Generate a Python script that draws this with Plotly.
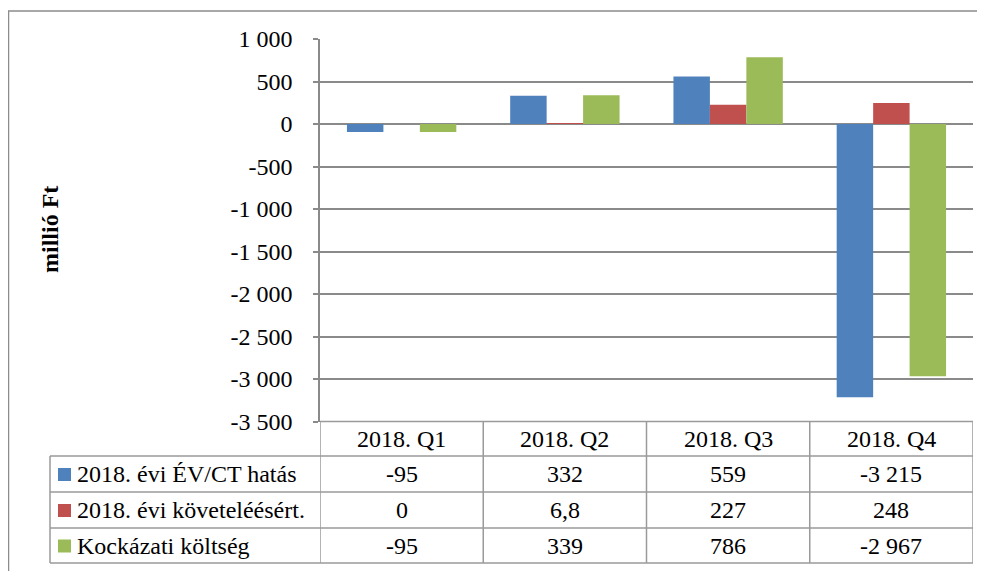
import plotly.graph_objects as go

# page body has an 8px margin; the figure is sized so that it ends at the window edge
OFF = 8
W, H = 985 - OFF, 571 - OFF

categories = ["2018. Q1", "2018. Q2", "2018. Q3", "2018. Q4"]
series_names = ["2018. évi ÉV/CT hatás", "2018. évi követeléésért.", "Kockázati költség"]
ev_ct_hatas = [-95, 332, 559, -3215]
koveteles_ert = [0, 6.8, 227, 248]
kockazati_koltseg = [-95, 339, 786, -2967]
series_values = [ev_ct_hatas, koveteles_ert, kockazati_koltseg]
series_colors = ["#4F81BD", "#C0504D", "#9BBB59"]

y_tickvals = [1000, 500, 0, -500, -1000, -1500, -2000, -2500, -3000, -3500]
y_ticktext = ["1 000", "500", "0", "-500", "-1 000", "-1 500", "-2 000", "-2 500", "-3 000", "-3 500"]
y_title = "millió Ft"

FONT = "Liberation Serif, Times New Roman, serif"
FS = 24
GRID = "#8a8a8a"
TBL = "#9a9a9a"


def fmt(v):
    if float(v).is_integer():
        return f"{int(v):,}".replace(",", " ")
    return str(v).replace(".", ",")


def px_x(p):
    return (p - OFF) / W


def px_y(p):
    return 1 - (p - OFF) / H


fig = go.Figure()
for name, vals, col in zip(series_names, series_values, series_colors):
    fig.add_trace(go.Bar(x=categories, y=vals, name=name, marker_color=col,
                         marker_line_width=0, showlegend=False))

# plot area pixel bounds (window coordinates)
PL, PR, PT, PB = 320, 973, 39, 421.5
row_edges = [421.5, 456, 492, 528, 563]
TL = 50

shapes = []
# outer chart border (top and left)
shapes.append(dict(type="rect", xref="paper", yref="paper", x0=px_x(8.5), x1=px_x(1000),
                   y0=px_y(11), y1=px_y(590), line=dict(color="#8c8c8c", width=1.5)))
# horizontal table lines
for i, ry in enumerate(row_edges):
    x0 = PL if i == 0 else TL
    shapes.append(dict(type="line", xref="paper", yref="paper", x0=px_x(x0), x1=px_x(PR),
                       y0=px_y(ry), y1=px_y(ry), line=dict(color=TBL, width=1.5)))
# vertical table lines at category boundaries
for k in range(len(categories) + 1):
    shapes.append(dict(type="line", xref="x", yref="paper", x0=k - 0.5, x1=k - 0.5,
                       y0=px_y(row_edges[0]), y1=px_y(row_edges[-1]), line=dict(color=TBL, width=1.5)))
shapes.append(dict(type="line", xref="paper", yref="paper", x0=px_x(TL), x1=px_x(TL),
                   y0=px_y(row_edges[1]), y1=px_y(row_edges[-1]), line=dict(color=TBL, width=1.5)))

annotations = []
# header row
hy = (row_edges[0] + row_edges[1]) / 2
for c in categories:
    annotations.append(dict(x=c, y=px_y(hy), xref="x", yref="paper", text=c, showarrow=False,
                            font=dict(family=FONT, size=FS, color="#000"), xanchor="center", yanchor="middle"))
# data rows
for r, (name, vals, col) in enumerate(zip(series_names, series_values, series_colors)):
    cy = (row_edges[r + 1] + row_edges[r + 2]) / 2
    shapes.append(dict(type="rect", xref="paper", yref="paper", x0=px_x(58), x1=px_x(71),
                       y0=px_y(cy - 6), y1=px_y(cy + 7), fillcolor=col, line=dict(width=0)))
    annotations.append(dict(x=px_x(75), y=px_y(cy), xref="paper", yref="paper", text=name, showarrow=False,
                            font=dict(family=FONT, size=FS, color="#000"), xanchor="left", yanchor="middle"))
    for c, v in zip(categories, vals):
        annotations.append(dict(x=c, y=px_y(cy), xref="x", yref="paper", text=fmt(v), showarrow=False,
                                font=dict(family=FONT, size=FS, color="#000"), xanchor="center", yanchor="middle"))

annotations.append(dict(x=px_x(50), y=px_y(230), xref="paper", yref="paper", text="<b>" + y_title + "</b>",
                        showarrow=False, textangle=-90, font=dict(family=FONT, size=FS, color="#000"),
                        xanchor="center", yanchor="middle"))

fig.update_layout(
    template="none",
    width=W, height=H, autosize=False,
    margin=dict(l=0, r=0, t=0, b=0, pad=0),
    paper_bgcolor="white", plot_bgcolor="white",
    barmode="group", bargap=0.33, bargroupgap=0,
    font=dict(family=FONT, size=FS, color="#000"),
    xaxis=dict(domain=[px_x(PL), px_x(PR)], range=[-0.5, 3.5], showticklabels=False, automargin=False,
               showgrid=False, zeroline=False, showline=False, ticks=""),
    yaxis=dict(domain=[px_y(PB), px_y(PT)], range=[-3500, 1000], tickvals=y_tickvals, ticktext=y_ticktext,
               automargin=False,
               showgrid=True, gridcolor=GRID, gridwidth=1.5, zeroline=False,
               showline=True, linecolor=GRID, linewidth=1.5, ticks="outside", ticklen=5, tickcolor=GRID,
               tickwidth=1.5, ticklabelstandoff=16, tickfont=dict(family=FONT, size=FS, color="#000")),
    shapes=shapes, annotations=annotations,
)

fig.write_html("out.html")
